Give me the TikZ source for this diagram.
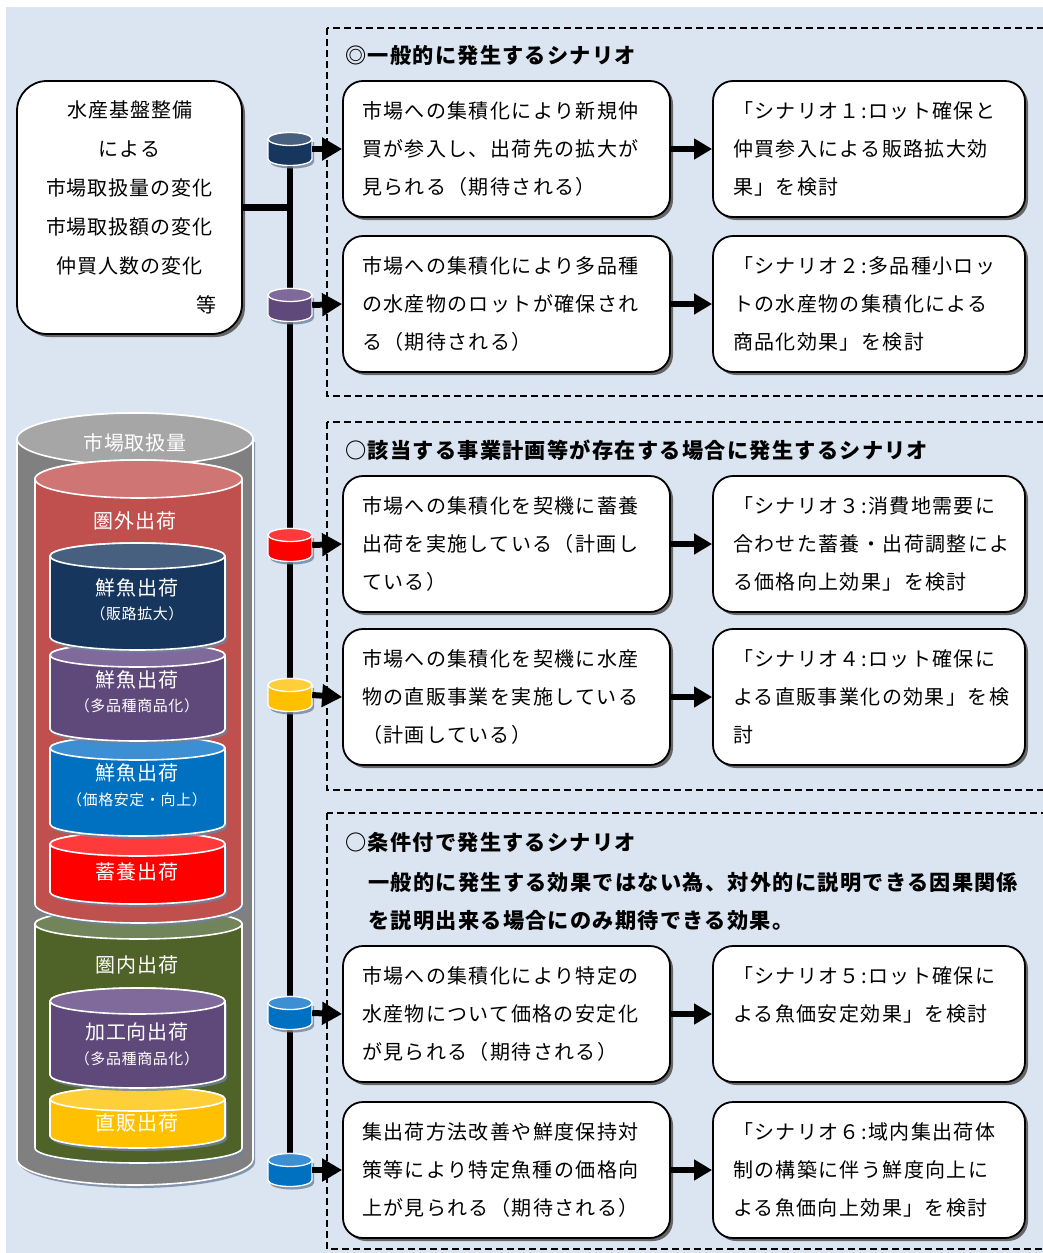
\documentclass[tikz,border=0pt]{standalone}
\usepackage{fontspec}
\usetikzlibrary{arrows.meta,shadows}
\newfontfamily\jpbox[LetterSpace=7]{Noto Sans CJK JP}
\newfontfamily\jpleft[LetterSpace=5]{Noto Sans CJK JP}
\newfontfamily\jptitle[LetterSpace=6]{Noto Sans CJK JP}
\newfontfamily\jpcyl[LetterSpace=4]{Noto Sans CJK JP}
\definecolor{bgc}{HTML}{DBE5F1}
\definecolor{navyB}{HTML}{17365D}\definecolor{navyT}{HTML}{47607F}
\definecolor{purB}{HTML}{5F497A}\definecolor{purT}{HTML}{80699B}
\definecolor{bluB}{HTML}{0070C0}\definecolor{bluT}{HTML}{3D8FD4}
\definecolor{redB}{HTML}{FF0000}\definecolor{redT}{HTML}{FF3A3A}
\definecolor{yelB}{HTML}{FFC000}\definecolor{yelT}{HTML}{FFCF3A}
\definecolor{grayB}{HTML}{808080}\definecolor{grayT}{HTML}{A6A6A6}
\definecolor{rdB}{HTML}{C0504D}\definecolor{rdT}{HTML}{CF7674}
\definecolor{grB}{HTML}{4F6228}\definecolor{grT}{HTML}{72845A}
\definecolor{cylsh}{HTML}{6F819C}
\newcommand\bigcyl[7]{%
  \pgfmathsetmacro\rxx{(#2-#1)/2}\pgfmathsetmacro\cxx{(#1+#2)/2}%
  \fill[cylsh,opacity=0.8,shift={(2,3)}] (#1,#3) -- (#1,#4) arc[start angle=180,end angle=0,x radius=\rxx,y radius=#5] -- (#2,#3) -- cycle;
  \filldraw[fill=#6,draw=white,line width=1.6pt] (#1,#3) -- (#1,#4) arc[start angle=180,end angle=0,x radius=\rxx,y radius=#5] -- (#2,#3) arc[start angle=0,end angle=-180,x radius=\rxx,y radius=#5] -- cycle;
  \filldraw[fill=#7,draw=white,line width=1.6pt] (\cxx,#3) ellipse[x radius=\rxx,y radius=#5];
}
\tikzset{
  pics/scyl/.style 2 args={code={
    \fill[cylsh,opacity=0.8,shift={(2,3)}] (-22,-10) -- (-22,10) arc[start angle=180,end angle=0,x radius=22,y radius=6.5] -- (22,-10) -- cycle;
    \filldraw[fill=#1,draw=white,line width=1.3pt] (-22,-10) -- (-22,10) arc[start angle=180,end angle=0,x radius=22,y radius=6.5] -- (22,-10) arc[start angle=0,end angle=-180,x radius=22,y radius=6.5] -- cycle;
    \filldraw[fill=#2,draw=white,line width=1.3pt] (0,-10) ellipse[x radius=22,y radius=6.5];
  }},
  cylnode/.style={minimum width=44pt,minimum height=32pt,inner sep=0pt},
  box/.style={draw=black,line width=1.8pt,fill=white,rounded corners=20pt,
    drop shadow={shadow xshift=3pt,shadow yshift=-3pt,fill=black!60,opacity=1},
    inner xsep=0pt,inner ysep=0pt,minimum height=136pt,align=left,
    font=\jpbox\fontsize{20}{38}\selectfont},
  abox/.style={box,text width=289pt,minimum width=327pt},
  bbox/.style={box,text width=272pt,minimum width=312pt},
  frame/.style={draw=black,line width=2.2pt,dash pattern=on 7pt off 4pt},
  title/.style={anchor=west,inner sep=0pt,font=\jptitle\bfseries\fontsize{21.2}{24}\selectfont},
  conn/.style={line width=6.5pt,black},
  arr/.style={line width=6pt,black,-{Triangle[length=20pt,width=22pt]}},
  ctext/.style={text=white,inner sep=0pt,font=\jpcyl\fontsize{20}{24}\selectfont},
  csub/.style={text=white,inner sep=0pt,font=\jpcyl\fontsize{15}{18}\selectfont},
}
\begin{document}
\begin{tikzpicture}[x=1pt,y=-1pt]
\useasboundingbox (0,0) rectangle (1043,1253);
\clip (0,0) rectangle (1043,1253);
\fill[bgc] (6,7) rectangle (1043,1253);
% frames
\draw[frame] (327,28) rectangle (1060,396);
\draw[frame] (327,422) rectangle (1060,790);
\draw[frame] (327,813) rectangle (1060,1249);
% titles
\node[title] (t1) at (345,55) {◎一般的に発生するシナリオ};
\node[title] (t2) at (345,450) {○該当する事業計画等が存在する場合に発生するシナリオ};
\node[title] (t3) at (345,842) {○条件付で発生するシナリオ};
\node[title] (t4) at (368,882) {一般的に発生する効果ではない為、対外的に説明できる因果関係};
\node[title] (t5) at (368,920) {を説明出来る場合にのみ期待できる効果。};
% left box
\node[draw=black,line width=1.8pt,fill=white,rounded corners=30pt,
  drop shadow={shadow xshift=3pt,shadow yshift=-3pt,fill=black!60,opacity=1},
  minimum width=225pt,minimum height=253pt,text width=173pt,inner sep=0pt,align=center,
  font=\jpleft\fontsize{20}{39}\selectfont] (L) at (129.5,207.5)
  {水産基盤整備\\による\\市場取扱量の変化\\市場取扱額の変化\\仲買人数の変化\\\makebox[173pt][r]{等}};
% scenario boxes
\node[abox] (a1) at (506.5,149) {市場への集積化により新規仲\\買が参入し、出荷先の拡大が\\見られる（期待される）};
\node[bbox] (b1) at (869,149) {「シナリオ１:ロット確保と\\仲買参入による販路拡大効\\果」を検討};
\node[abox] (a2) at (506.5,304) {市場への集積化により多品種\\の水産物のロットが確保され\\る（期待される）};
\node[bbox] (b2) at (869,304) {「シナリオ２:多品種小ロッ\\トの水産物の集積化による\\商品化効果」を検討};
\node[abox] (a3) at (506.5,544) {市場への集積化を契機に蓄養\\出荷を実施している（計画し\\ている）};
\node[bbox] (b3) at (869,544) {「シナリオ３:消費地需要に\\合わせた蓄養・出荷調整によ\\る価格向上効果」を検討};
\node[abox] (a4) at (506.5,697) {市場への集積化を契機に水産\\物の直販事業を実施している\\（計画している）};
\node[bbox] (b4) at (869,697) {「シナリオ４:ロット確保に\\よる直販事業化の効果」を検\\討};
\node[abox] (a5) at (506.5,1014) {市場への集積化により特定の\\水産物について価格の安定化\\が見られる（期待される）};
\node[bbox] (b5) at (869,1014) {「シナリオ５:ロット確保に\\よる魚価安定効果」を検討\\\phantom{あ}};
\node[abox] (a6) at (506.5,1170) {集出荷方法改善や鮮度保持対\\策等により特定魚種の価格向\\上が見られる（期待される）};
\node[bbox] (b6) at (869,1170) {「シナリオ６:域内集出荷体\\制の構築に伴う鮮度向上に\\よる魚価向上効果」を検討};
% small cylinder anchors
\node[cylnode] (c1) at (290,149) {};
\node[cylnode] (c2) at (290,305) {};
\node[cylnode] (c3) at (290,545) {};
\node[cylnode] (c4) at (290,695) {};
\node[cylnode] (c5) at (290,1013) {};
\node[cylnode] (c6) at (290,1170) {};
% trunk lines
\draw[conn] (c1.center) -- (c6.center);
\draw[conn] (L.east) -- (L.east -| c1.center);
% small cylinders
\pic at (290,149) {scyl={navyB}{navyT}};
\pic at (290,305) {scyl={purB}{purT}};
\pic at (290,545) {scyl={redB}{redT}};
\pic at (290,695) {scyl={yelB}{yelT}};
\pic at (290,1013) {scyl={bluB}{bluT}};
\pic at (290,1170) {scyl={bluB}{bluT}};
% arrows
\foreach \i in {1,...,6}{
  \draw[arr] (c\i.east) -- (a\i.west);
  \draw[arr,-{Triangle[length=18pt,width=20pt]}] (a\i.east) -- (b\i.west);
}
% big cylinder
\bigcyl{17}{253}{439}{1159}{26}{grayB}{grayT}
\bigcyl{35}{242}{924}{1148}{15}{grB}{grT}
\bigcyl{35}{242}{479}{904}{19}{rdB}{rdT}
\bigcyl{50}{225}{844}{892}{12}{redB}{redT}
\bigcyl{50}{225}{748}{824}{12}{bluB}{bluT}
\bigcyl{50}{225}{655}{729}{12}{purB}{purT}
\bigcyl{50}{225}{556}{637}{13}{navyB}{navyT}
\bigcyl{50}{225}{1099}{1136}{12}{yelB}{yelT}
\bigcyl{50}{225}{1001}{1075}{13}{purB}{purT}
% cylinder texts
\node[ctext] (g1) at (135,443) {市場取扱量};
\node[ctext] (g2) at (135,521) {圏外出荷};
\node[ctext] (g3) at (137,588) {鮮魚出荷};
\node[csub] (g3s) at (137,614) {（販路拡大）};
\node[ctext] (g4) at (137,680) {鮮魚出荷};
\node[csub] (g4s) at (137,706) {（多品種商品化）};
\node[ctext] (g5) at (137,773) {鮮魚出荷};
\node[csub] (g5s) at (137,800) {（価格安定・向上）};
\node[ctext] (g6) at (137,872) {蓄養出荷};
\node[ctext] (g7) at (137,965) {圏内出荷};
\node[ctext] (g8) at (137,1032) {加工向出荷};
\node[csub] (g8s) at (137,1059) {（多品種商品化）};
\node[ctext] (g9) at (137,1123) {直販出荷};
\end{tikzpicture}
\end{document}
